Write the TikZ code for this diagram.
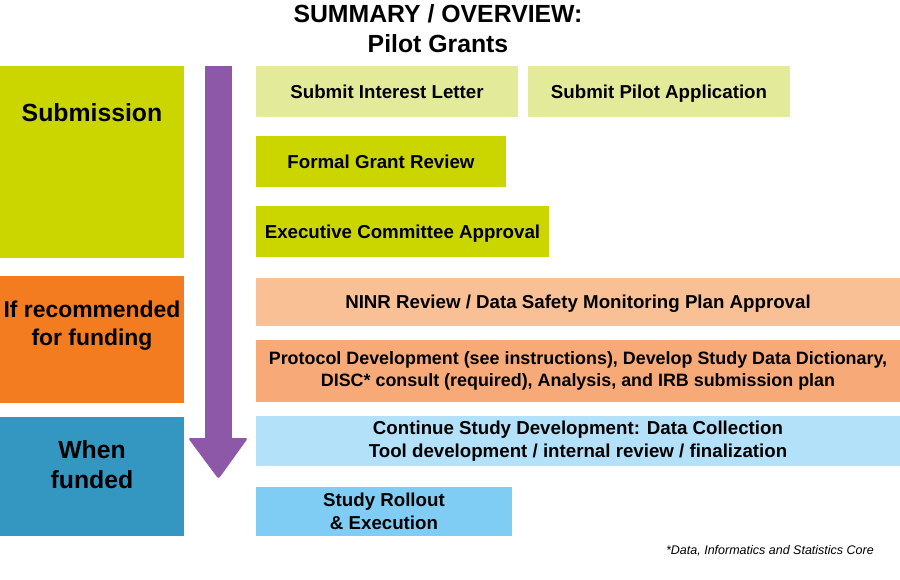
\documentclass[tikz,border=0pt]{standalone}
\usepackage{fontspec}
\setmainfont{Liberation Sans}
\definecolor{lime}{HTML}{CBD600}
\definecolor{palelime}{HTML}{E3EA9A}
\definecolor{orng}{HTML}{F47C20}
\definecolor{lightorng}{HTML}{F9BF95}
\definecolor{midorng}{HTML}{F8A978}
\definecolor{steel}{HTML}{3497C2}
\definecolor{lightblue}{HTML}{B3E1F9}
\definecolor{midblue}{HTML}{7FCDF5}
\definecolor{arrowpurple}{HTML}{8E58A8}
\tikzset{
  box/.style={rectangle, inner sep=0pt, outer sep=0pt, anchor=north west, align=center,
    font=\bfseries\fontsize{18.7}{22.5}\selectfont},
  oneline/.style={text height=13.4pt, text depth=0pt},
  sidetext/.style={inner sep=0pt, align=center, font=\bfseries\fontsize{24.8}{30}\selectfont},
}
\begin{document}
\begin{tikzpicture}[x=1pt,y=-1pt]
\useasboundingbox (0,0) rectangle (900,580);
\fill[white] (0,0) rectangle (900,580);
% title
\node[inner sep=0pt, align=center, font=\bfseries\fontsize{24.8}{30}\selectfont] (title) at (438,28.5) {SUMMARY / OVERVIEW:\\Pilot Grants};
% left phase boxes
\node[box, fill=lime, minimum width=184pt, minimum height=192pt] (sub) at (0,66) {};
\node[sidetext] (subtxt) at (92,113) {Submission};
\node[box, fill=orng, minimum width=184pt, minimum height=127pt] (rec) at (0,276) {};
\node[sidetext, font=\bfseries\fontsize{22.9}{28}\selectfont] (rectxt) at (92,326) {If recommended\\for funding};
\node[box, fill=steel, minimum width=184pt, minimum height=119pt] (fund) at (0,417) {};
\node[sidetext] (fundtxt) at (92,465) {When\\funded};
% arrow
\fill[arrowpurple] (205,66) rectangle (232,440);
\fill[arrowpurple, rounded corners=2.5pt] (188,438) -- (248,438) -- (218.5,479) -- cycle;
% steps
\node[box, oneline, fill=palelime, minimum width=262pt, minimum height=51pt] (interest) at (256,66) {Submit Interest Letter};
\node[box, oneline, fill=palelime, minimum width=262pt, minimum height=51pt] (pilot) at (528,66) {Submit Pilot Application};
\node[box, oneline, fill=lime, minimum width=250pt, minimum height=51pt] (review) at (256,136) {Formal Grant Review};
\node[box, oneline, fill=lime, minimum width=293pt, minimum height=51pt] (exec) at (256,206) {Executive Committee Approval};
\node[box, oneline, fill=lightorng, minimum width=644pt, minimum height=48pt] (ninr) at (256,278) {NINR Review / Data Safety Monitoring Plan Approval};
\node[box, fill=midorng, minimum width=644pt, minimum height=62pt, font=\bfseries\fontsize{17.9}{22.5}\selectfont] (proto) at (256,340) {Protocol Development (see instructions), Develop Study Data Dictionary,\\DISC* consult (required), Analysis, and IRB submission plan};
\node[box, fill=lightblue, minimum width=644pt, minimum height=50pt] (cont) at (256,416) {Continue Study Development: Data Collection\\Tool development / internal review / finalization};
\node[box, fill=midblue, minimum width=256pt, minimum height=49pt] (roll) at (256,487) {Study Rollout\\\& Execution};
% footnote
\node[inner sep=0pt, anchor=east, font=\itshape\fontsize{12.5}{15}\selectfont] (foot) at (874,551) {*Data, Informatics and Statistics Core};
\end{tikzpicture}
\end{document}
